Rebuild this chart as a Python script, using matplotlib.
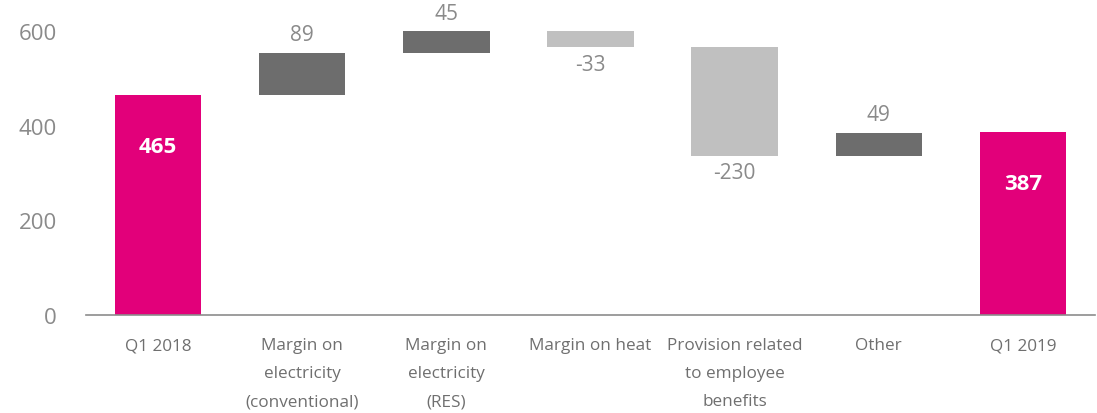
import matplotlib.pyplot as plt

categories = ['Q1 2018', 'Margin on\nelectricity\n(conventional)', 'Margin on\nelectricity\n(RES)',
              'Margin on heat', 'Provision related\nto employee\nbenefits', 'Other', 'Q1 2019']
start_total = 465
changes = [89, 45, -33, -230, 49]
end_total = 387

magenta = '#e2007a'
dark = '#6d6d6d'
light = '#c0c0c0'
text_grey = '#8a8a8a'

plt.rcParams['font.family'] = ['Open Sans', 'DejaVu Sans']

fig = plt.figure(figsize=(10.97, 4.14), dpi=100)
ax = fig.add_axes([86 / 1097, 98 / 414, 1009 / 1097, 284 / 414])

x = range(len(categories))
w = 0.6

# totals
ax.bar(0, start_total, width=w, color=magenta)
ax.bar(6, end_total, width=w, color=magenta)
for i, v in [(0, start_total), (6, end_total)]:
    ax.annotate(str(v), (i, v), xytext=(0, -52), textcoords='offset pixels',
                ha='center', va='center', color='white', fontsize=16, fontweight='bold')

# changes
level = start_total
for k, d in enumerate(changes):
    i = k + 1
    bottom = level if d > 0 else level + d
    col = dark if d > 0 else light
    ax.bar(i, abs(d), bottom=bottom, width=w, color=col)
    off = 18 if d > 0 else -17
    ax.annotate(str(d), (i, level + d), xytext=(0, off), textcoords='offset pixels',
                ha='center', va='center', color=text_grey, fontsize=15)
    level += d

ax.set_xlim(-0.5, 6.5)
ax.set_ylim(0, 600)
ax.set_yticks([0, 200, 400, 600])
ax.set_xticks(list(x))
ax.set_xticklabels(categories, linespacing=2.0)
ax.tick_params(axis='y', length=0, pad=21, labelsize=16, labelcolor=text_grey)
ax.tick_params(axis='x', length=0, pad=16, labelsize=12.3, labelcolor='#6f6f6f')
for s in ['top', 'left', 'right']:
    ax.spines[s].set_visible(False)
ax.spines['bottom'].set_color('#8c8c8c')
ax.spines['bottom'].set_linewidth(1.2)

fig.savefig('out.png', dpi=100)
